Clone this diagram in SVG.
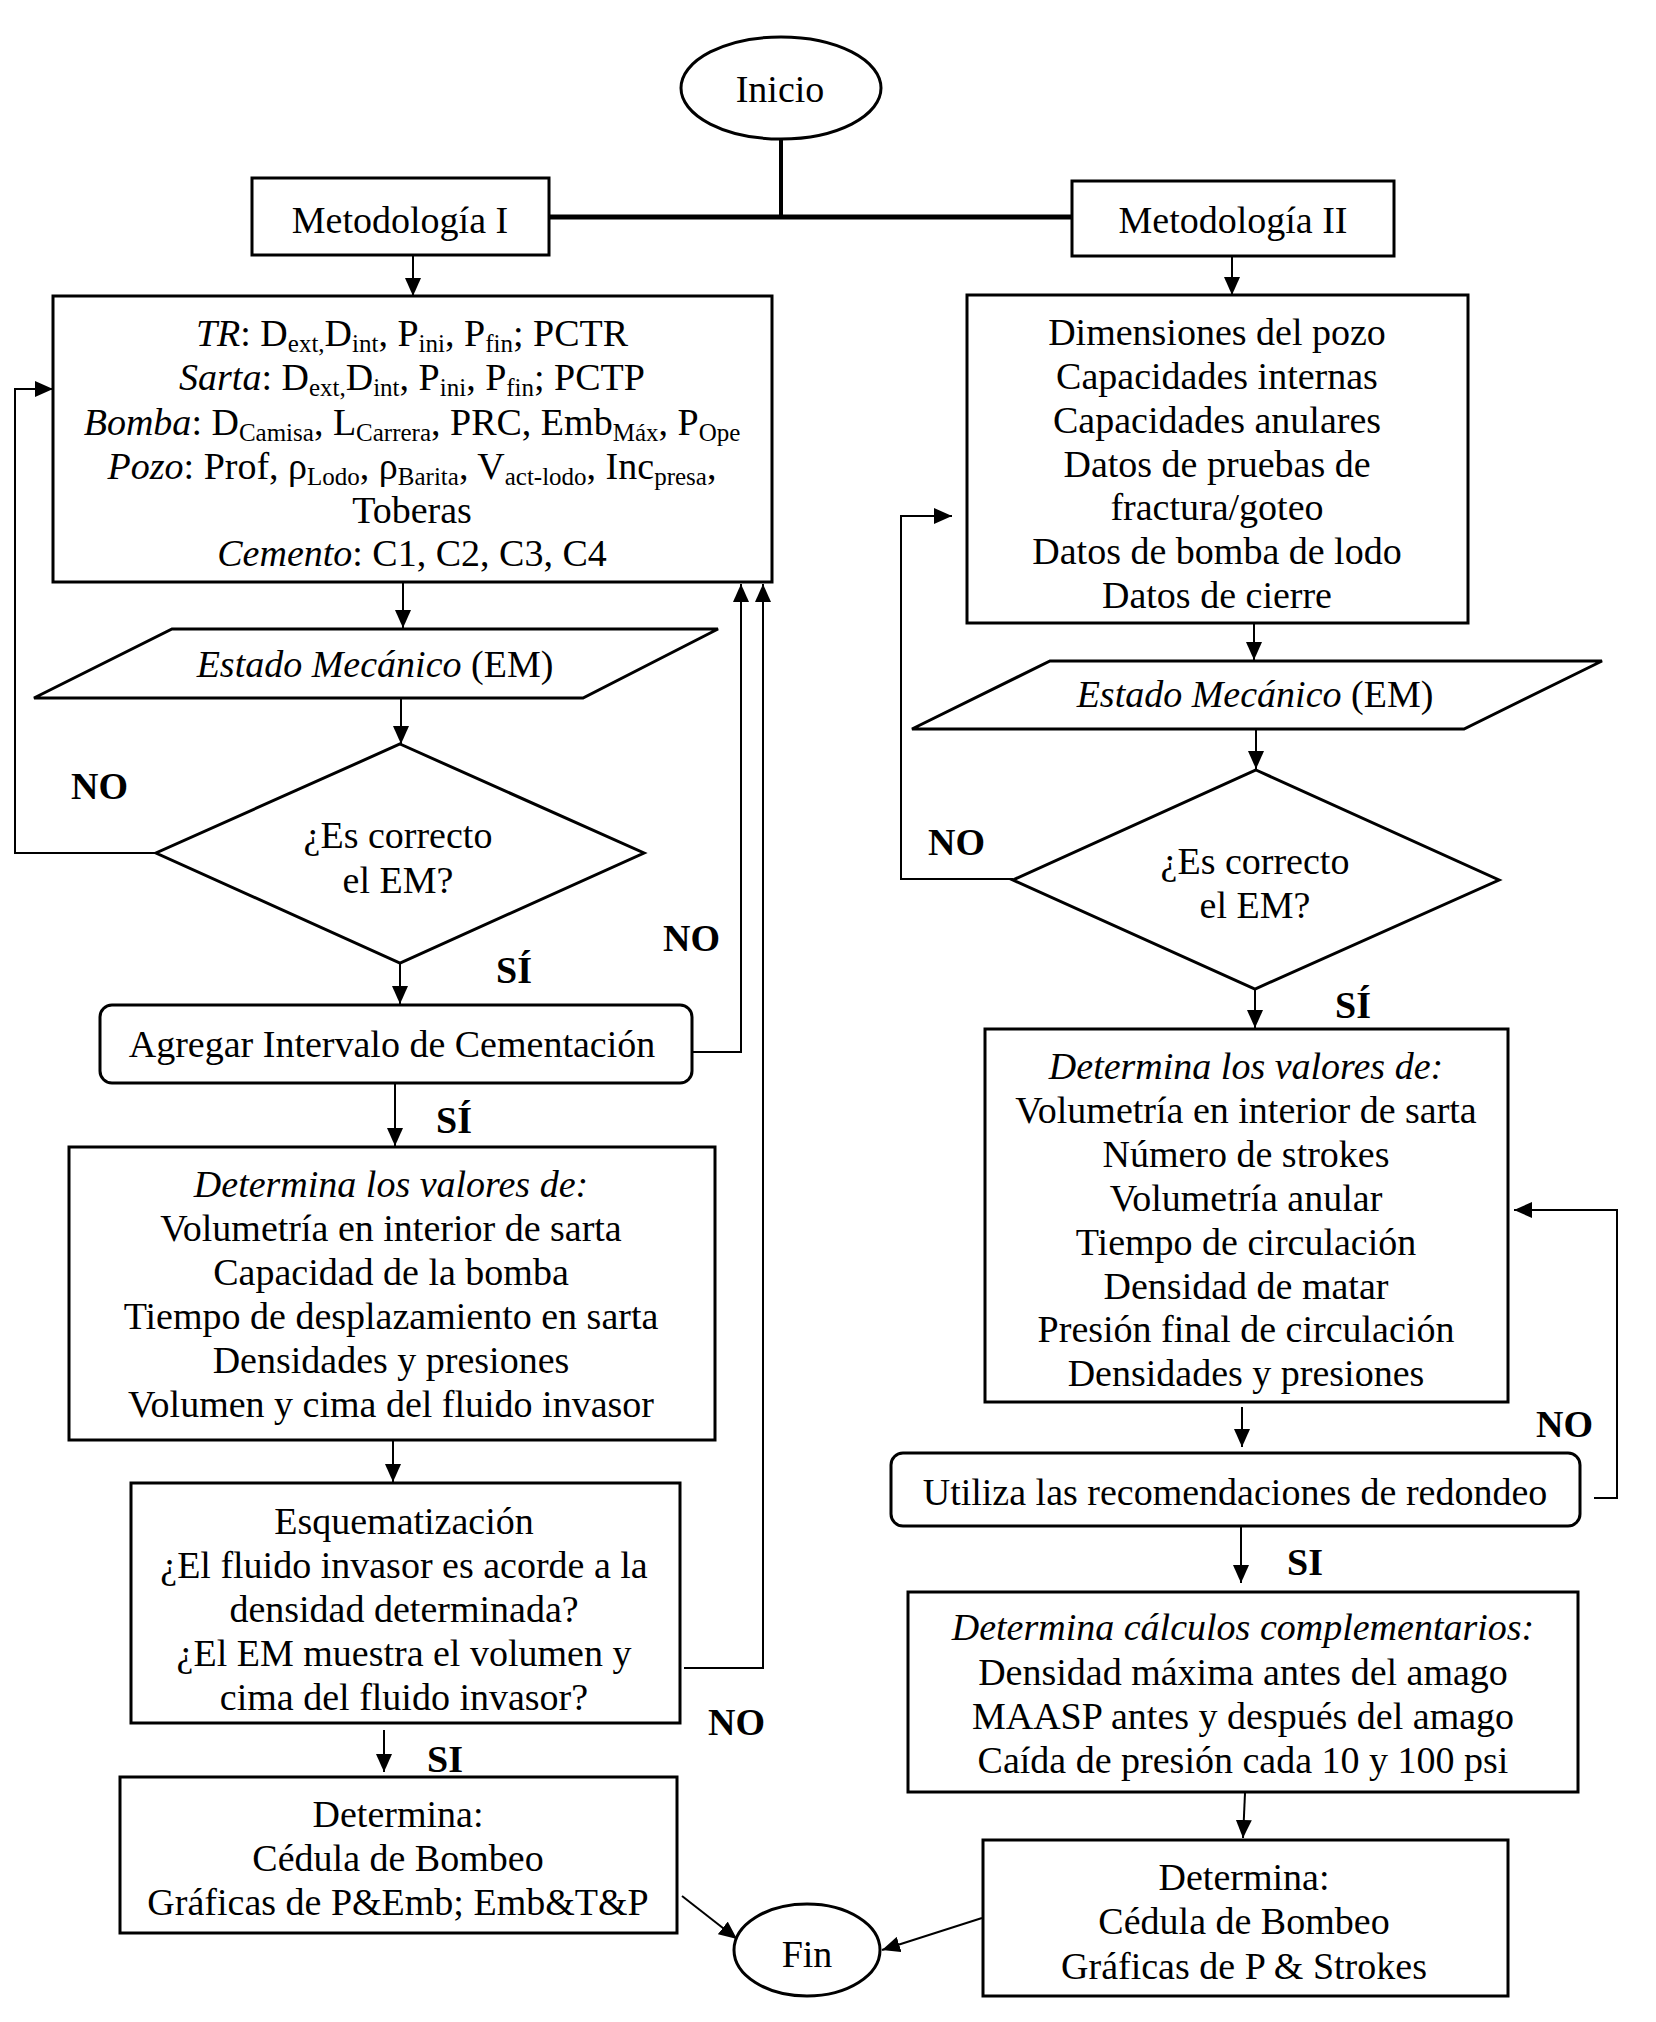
<svg xmlns="http://www.w3.org/2000/svg" width="1656" height="2022" viewBox="0 0 1656 2022">
<style>
.bx{fill:#fff;stroke:#000;stroke-width:3}
.ln{fill:none;stroke:#000;stroke-width:2}
.t{font-family:"Liberation Serif","Times New Roman",serif;font-size:38px;text-anchor:middle;fill:#000}
.lb{font-family:"Liberation Serif","Times New Roman",serif;font-size:38px;font-weight:bold;fill:#000}
.i{font-style:italic}
.s{font-size:25px}
</style>
<defs>
<marker id="ah" markerUnits="userSpaceOnUse" markerWidth="18" markerHeight="16" refX="18" refY="8" orient="auto"><path d="M0,0 L18,8 L0,16 z" fill="#000"/></marker>
</defs>
<rect width="1656" height="2022" fill="#fff"/>
<g id="connectors">
<path d="M781,139 V217" fill="none" stroke="#000" stroke-width="4"/>
<path d="M549,217 H1072" fill="none" stroke="#000" stroke-width="5"/>
<path class="ln" d="M413,255 V296" marker-end="url(#ah)"/>
<path class="ln" d="M1232,256 V295" marker-end="url(#ah)"/>
<path class="ln" d="M403,583 V628" marker-end="url(#ah)"/>
<path class="ln" d="M401,698 V744" marker-end="url(#ah)"/>
<path class="ln" d="M156,853 H15 V389 H53" marker-end="url(#ah)"/>
<path class="ln" d="M400,963 V1004" marker-end="url(#ah)"/>
<path class="ln" d="M680,1052 H741 V584" marker-end="url(#ah)"/>
<path class="ln" d="M395,1083 V1146" marker-end="url(#ah)"/>
<path class="ln" d="M393,1440 V1482" marker-end="url(#ah)"/>
<path class="ln" d="M684,1668 H763 V584" marker-end="url(#ah)"/>
<path class="ln" d="M384,1730 V1772" marker-end="url(#ah)"/>
<path class="ln" d="M682,1896 L737,1939" marker-end="url(#ah)"/>
<path class="ln" d="M1254,623 V660" marker-end="url(#ah)"/>
<path class="ln" d="M1256,729 V769" marker-end="url(#ah)"/>
<path class="ln" d="M1013,879 H901 V516 H952" marker-end="url(#ah)"/>
<path class="ln" d="M1255,989 V1028" marker-end="url(#ah)"/>
<path class="ln" d="M1242,1407 V1447" marker-end="url(#ah)"/>
<path class="ln" d="M1594,1498 H1617 V1210 H1514" marker-end="url(#ah)"/>
<path class="ln" d="M1241,1526 V1583" marker-end="url(#ah)"/>
<path class="ln" d="M1245,1793 L1243,1838" marker-end="url(#ah)"/>
<path class="ln" d="M982,1918 L882,1950" marker-end="url(#ah)"/>
</g>
<g id="labels">
<text class="lb" x="71" y="799">NO</text>
<text class="lb" x="496" y="983">SÍ</text>
<text class="lb" x="663" y="951">NO</text>
<text class="lb" x="436" y="1133">SÍ</text>
<text class="lb" x="708" y="1735">NO</text>
<text class="lb" x="427" y="1772">SI</text>
<text class="lb" x="928" y="855">NO</text>
<text class="lb" x="1335" y="1018">SÍ</text>
<text class="lb" x="1536" y="1437">NO</text>
<text class="lb" x="1287" y="1575">SI</text>
</g>
<g id="inicio">
<ellipse class="bx" cx="781" cy="88" rx="100" ry="51"/>
<text class="t" x="780" y="102">Inicio</text>
</g>
<g id="metodologia1">
<rect class="bx" x="252" y="178" width="297" height="77"/>
<text class="t" x="400" y="233">Metodología I</text>
</g>
<g id="metodologia2">
<rect class="bx" x="1072" y="181" width="322" height="75"/>
<text class="t" x="1233" y="233">Metodología II</text>
</g>
<g id="datos1">
<rect class="bx" x="53" y="296" width="719" height="286"/>
<text class="t" x="412" y="346"><tspan class="i">TR</tspan>: D<tspan class="s" dy="6">ext,</tspan><tspan dy="-6">D</tspan><tspan class="s" dy="6">int</tspan><tspan dy="-6">, P</tspan><tspan class="s" dy="6">ini</tspan><tspan dy="-6">,  P</tspan><tspan class="s" dy="6">fin</tspan><tspan dy="-6">; PCTR</tspan></text>
<text class="t" x="412" y="390"><tspan class="i">Sarta</tspan>: D<tspan class="s" dy="6">ext,</tspan><tspan dy="-6">D</tspan><tspan class="s" dy="6">int</tspan><tspan dy="-6">, P</tspan><tspan class="s" dy="6">ini</tspan><tspan dy="-6">,  P</tspan><tspan class="s" dy="6">fin</tspan><tspan dy="-6">; PCTP</tspan></text>
<text class="t" x="412" y="435"><tspan class="i">Bomba</tspan>: D<tspan class="s" dy="6">Camisa</tspan><tspan dy="-6">, L</tspan><tspan class="s" dy="6">Carrera</tspan><tspan dy="-6">, PRC, Emb</tspan><tspan class="s" dy="6">Máx</tspan><tspan dy="-6">, P</tspan><tspan class="s" dy="6">Ope</tspan></text>
<text class="t" x="412" y="479"><tspan class="i">Pozo</tspan>: Prof, ρ<tspan class="s" dy="6">Lodo</tspan><tspan dy="-6">, ρ</tspan><tspan class="s" dy="6">Barita</tspan><tspan dy="-6">, V</tspan><tspan class="s" dy="6">act-lodo</tspan><tspan dy="-6">, Inc</tspan><tspan class="s" dy="6">presa</tspan><tspan dy="-6">,</tspan></text>
<text class="t" x="412" y="523">Toberas</text>
<text class="t" x="412" y="566"><tspan class="i">Cemento</tspan>: C1, C2, C3, C4</text>
</g>
<g id="datos2">
<rect class="bx" x="967" y="295" width="501" height="328"/>
<text class="t" x="1217" y="345">Dimensiones del pozo</text>
<text class="t" x="1217" y="389">Capacidades internas</text>
<text class="t" x="1217" y="433">Capacidades anulares</text>
<text class="t" x="1217" y="477">Datos de pruebas de</text>
<text class="t" x="1217" y="520">fractura/goteo</text>
<text class="t" x="1217" y="564">Datos de bomba de lodo</text>
<text class="t" x="1217" y="608">Datos de cierre</text>
</g>
<g id="estado1">
<polygon class="bx" points="172,629 718,629 583,698 34,698"/>
<text class="t" x="375" y="677"><tspan class="i">Estado Mecánico</tspan> (EM)</text>
</g>
<g id="estado2">
<polygon class="bx" points="1050,661 1602,661 1464,729 912,729"/>
<text class="t" x="1255" y="707"><tspan class="i">Estado Mecánico</tspan> (EM)</text>
</g>
<g id="decision1">
<polygon class="bx" points="400,744 644,853 400,963 156,853"/>
<text class="t" x="398" y="848">¿Es correcto</text>
<text class="t" x="398" y="893">el EM?</text>
</g>
<g id="decision2">
<polygon class="bx" points="1256,770 1499,880 1255,989 1013,880"/>
<text class="t" x="1255" y="874">¿Es correcto</text>
<text class="t" x="1255" y="918">el EM?</text>
</g>
<g id="agregar">
<rect class="bx" x="100" y="1005" width="592" height="78" rx="12"/>
<text class="t" x="392" y="1057">Agregar Intervalo de Cementación</text>
</g>
<g id="determina1">
<rect class="bx" x="69" y="1147" width="646" height="293"/>
<text class="t i" x="391" y="1197">Determina  los valores de:</text>
<text class="t" x="391" y="1241">Volumetría en interior de sarta</text>
<text class="t" x="391" y="1285">Capacidad de la bomba</text>
<text class="t" x="391" y="1329">Tiempo de desplazamiento en sarta</text>
<text class="t" x="391" y="1373">Densidades y presiones</text>
<text class="t" x="391" y="1417">Volumen y cima del fluido invasor</text>
</g>
<g id="esquematizacion">
<rect class="bx" x="131" y="1483" width="549" height="240"/>
<text class="t" x="404" y="1534">Esquematización</text>
<text class="t" x="404" y="1578">¿El fluido invasor es acorde a la</text>
<text class="t" x="404" y="1622">densidad determinada?</text>
<text class="t" x="404" y="1666">¿El EM muestra el volumen y</text>
<text class="t" x="404" y="1710">cima del fluido invasor?</text>
</g>
<g id="cedula1">
<rect class="bx" x="120" y="1777" width="557" height="156"/>
<text class="t" x="398" y="1827">Determina:</text>
<text class="t" x="398" y="1871">Cédula de Bombeo</text>
<text class="t" x="398" y="1915">Gráficas de P&amp;Emb; Emb&amp;T&amp;P</text>
</g>
<g id="fin">
<ellipse class="bx" cx="807" cy="1950" rx="73" ry="46"/>
<text class="t" x="807" y="1967">Fin</text>
</g>
<g id="determina2">
<rect class="bx" x="985" y="1029" width="523" height="373"/>
<text class="t i" x="1246" y="1079">Determina  los valores de:</text>
<text class="t" x="1246" y="1123">Volumetría en interior de sarta</text>
<text class="t" x="1246" y="1167">Número de strokes</text>
<text class="t" x="1246" y="1211">Volumetría anular</text>
<text class="t" x="1246" y="1255">Tiempo de circulación</text>
<text class="t" x="1246" y="1299">Densidad de matar</text>
<text class="t" x="1246" y="1342">Presión final de circulación</text>
<text class="t" x="1246" y="1386">Densidades y presiones</text>
</g>
<g id="redondeo">
<rect class="bx" x="891" y="1453" width="689" height="73" rx="12"/>
<text class="t" x="1235" y="1505">Utiliza las recomendaciones de redondeo</text>
</g>
<g id="calculos">
<rect class="bx" x="908" y="1592" width="670" height="200"/>
<text class="t i" x="1243" y="1640">Determina  cálculos complementarios:</text>
<text class="t" x="1243" y="1685">Densidad máxima antes del amago</text>
<text class="t" x="1243" y="1729">MAASP antes y después del amago</text>
<text class="t" x="1243" y="1773">Caída de presión cada 10 y 100 psi</text>
</g>
<g id="cedula2">
<rect class="bx" x="983" y="1840" width="525" height="156"/>
<text class="t" x="1244" y="1890">Determina:</text>
<text class="t" x="1244" y="1934">Cédula de Bombeo</text>
<text class="t" x="1244" y="1979">Gráficas de P &amp; Strokes</text>
</g>
</svg>
